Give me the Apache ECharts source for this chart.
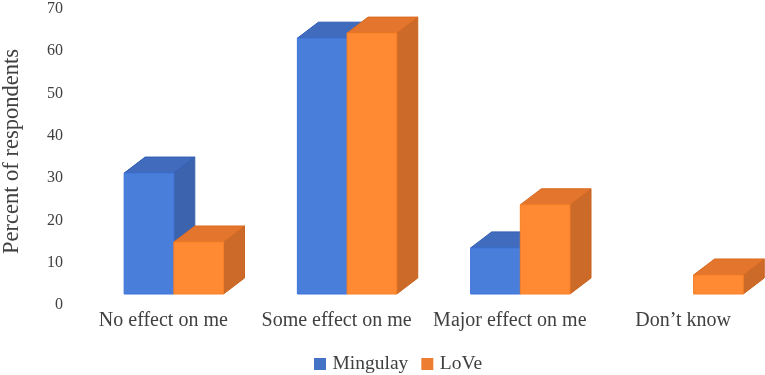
<!DOCTYPE html>
<html>
<head>
<meta charset="utf-8">
<style>html,body{margin:0;padding:0;background:#fff}#c{width:765px;height:375px}</style>
<script src="https://cdn.jsdelivr.net/npm/echarts@6/dist/echarts.min.js"></script>
</head>
<body>
<div id="c"></div>
<script>
const categories = ["No effect on me", "Some effect on me", "Major effect on me", "Don\u2019t know"];
const mingulay = [31.2, 63.1, 13.5, null];
const love = [14.9, 64.3, 23.7, 7.1];
const yTicks = {min: 0, max: 70, interval: 10};

const FONT = '"Liberation Serif","Times New Roman",serif';
const TEXT = '#404040';
const DX = 21, DY = 16, BASE_LIFT = 11, BAR_RATIO = 0.2868, SHIFT = 10.5;

function bars(side, faces) {
  return function (params, api) {
    const v = api.value(1);
    if (v === null || v === undefined || isNaN(v)) return null;
    const top = api.coord([api.value(0), v]);
    const zero = api.coord([api.value(0), 0]);
    const w = api.size([1, 0])[0] * BAR_RATIO;
    const mid = top[0] + SHIFT;
    const x0 = side < 0 ? mid - w : mid;
    const x1 = x0 + w;
    const yT = top[1], yB = zero[1] - BASE_LIFT;
    const poly = (points, fill, stroke) => ({
      type: 'polygon', shape: {points},
      style: {fill, stroke: stroke, lineWidth: 1}
    });
    return {
      type: 'group',
      children: [
        poly([[x1, yB], [x1 + DX, yB - DY], [x1 + DX, yT - DY], [x1, yT]], faces.side, faces.sideEdge),
        poly([[x0, yT], [x0 + DX, yT - DY], [x1 + DX, yT - DY], [x1, yT]], faces.top, faces.topEdge),
        poly([[x0, yB], [x1, yB], [x1, yT], [x0, yT]], faces.front, faces.frontEdge)
      ]
    };
  };
}

const chart = echarts.init(document.getElementById('c'), null, {renderer: 'canvas'});
chart.setOption({
  animation: false,
  backgroundColor: '#ffffff',
  grid: {left: 76.7, top: 9, width: 693, height: 296, containLabel: false, outerBoundsMode: 'none'},
  legend: {
    data: ['Mingulay', 'LoVe'],
    left: 309, top: 349,
    itemWidth: 12, itemHeight: 12, itemGap: 13,
    icon: 'rect',
    textStyle: {fontFamily: FONT, fontSize: 19.5, color: TEXT, padding: [0, 0, 0, 1.5]}
  },
  xAxis: {
    type: 'category',
    data: categories,
    axisLine: {show: false},
    axisTick: {show: false},
    axisLabel: {fontFamily: FONT, fontSize: 20, color: TEXT, margin: 6, interval: 0}
  },
  yAxis: {
    type: 'value',
    min: yTicks.min, max: yTicks.max, interval: yTicks.interval,
    name: 'Percent of respondents',
    nameLocation: 'middle',
    nameGap: 53,
    nameTextStyle: {fontFamily: FONT, fontSize: 22.5, color: TEXT, padding: [0, 0, 0, 11]},
    axisLine: {show: false},
    axisTick: {show: false},
    splitLine: {show: false},
    axisLabel: {fontFamily: FONT, fontSize: 16, color: TEXT, margin: 13.7}
  },
  series: [
    {
      name: 'Mingulay', type: 'custom',
      itemStyle: {color: '#4472C4'},
      encode: {x: 0, y: 1},
      data: mingulay.map((v, i) => [i, v]),
      renderItem: bars(-1, {front: '#4A7EDB', frontEdge: '#3F74DA', top: '#416CBD', topEdge: '#2F5DB4', side: '#3C64AE', sideEdge: '#3C64AE'})
    },
    {
      name: 'LoVe', type: 'custom',
      itemStyle: {color: '#ED7D31'},
      encode: {x: 0, y: 1},
      data: love.map((v, i) => [i, v]),
      renderItem: bars(1, {front: '#FF8A33', frontEdge: '#F58028', top: '#E3752C', topEdge: '#DA6C22', side: '#CC6A29', sideEdge: '#C9631F'})
    }
  ]
});
</script>
</body>
</html>
